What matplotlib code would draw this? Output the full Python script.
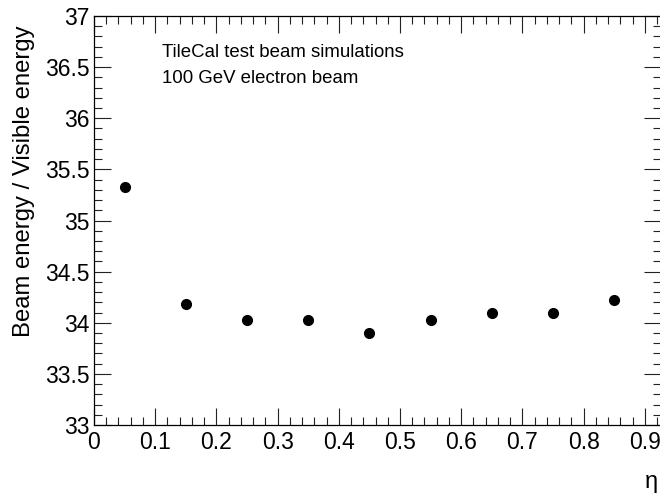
import matplotlib

matplotlib.use("Agg")
import matplotlib.pyplot as plt
from matplotlib.ticker import MultipleLocator

plt.rcParams["font.family"] = ["Liberation Sans", "DejaVu Sans"]

# data
eta = [0.05, 0.15, 0.25, 0.35, 0.45, 0.55, 0.65, 0.75, 0.85]
ratio = [35.33, 34.18, 34.03, 34.03, 33.90, 34.03, 34.10, 34.10, 34.22]

W, H = 660, 494
fig = plt.figure(figsize=(W / 100, H / 100), dpi=100)
# right spine sits just past the image edge, as in the reference
ax = fig.add_axes([94 / W, 1 - 425 / H, (661 - 94) / W, (425 - 16) / H])

ax.plot(eta, ratio, "o", color="black", markersize=7)

ax.set_xlim(0, (661 - 94) / 612)
ax.set_ylim(33, 37)
ax.xaxis.set_major_locator(MultipleLocator(0.1))
ax.xaxis.set_minor_locator(MultipleLocator(0.02))
ax.yaxis.set_major_locator(MultipleLocator(0.5))
ax.yaxis.set_minor_locator(MultipleLocator(0.1))
ax.xaxis.set_major_formatter(lambda v, _: f"{v:g}")
ax.yaxis.set_major_formatter(lambda v, _: f"{v:g}")

ax.tick_params(which="both", direction="in", top=True, right=True, labelsize=16.5,
               width=0.8, color="#222222")
ax.tick_params(which="major", length=12)
ax.tick_params(which="minor", length=6)
ax.tick_params(axis="x", pad=4)
ax.tick_params(axis="y", pad=3)
for s in ax.spines.values():
    s.set_linewidth(0.9)

fig.text(162 / W, 1 - 57 / H, "TileCal test beam simulations", va="baseline", fontsize=13.4)
fig.text(162 / W, 1 - 83 / H, "100 GeV electron beam", va="baseline", fontsize=13.4)

fig.text(24 / W, 1 - 25 / H, "Beam energy / Visible energy", rotation=90,
         ha="center", va="top", fontsize=17.2)
fig.text(658 / W, 1 - 488 / H, "η", ha="right", va="baseline", fontsize=17)

fig.savefig("out.png", dpi=100)
